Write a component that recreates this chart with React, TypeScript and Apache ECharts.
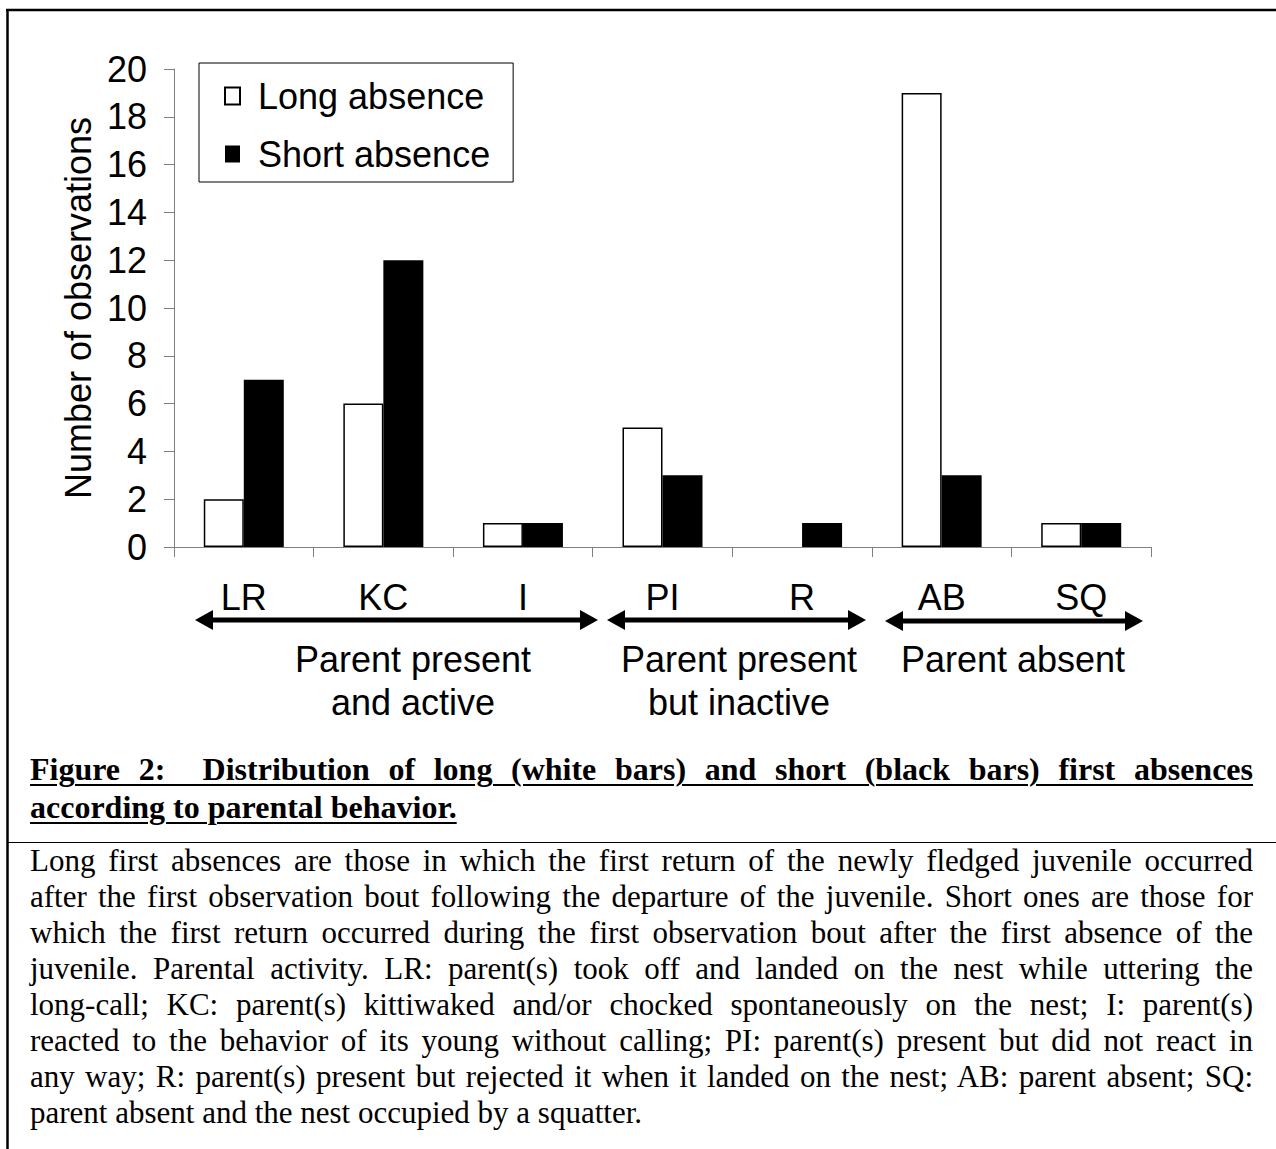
import React, { useEffect, useRef } from "react";
import * as echarts from "echarts";

const categories = ["LR", "KC", "I", "PI", "R", "AB", "SQ"];
const longAbsence = [2, 6, 1, 5, 0, 19, 1];
const shortAbsence = [7, 12, 1, 3, 1, 3, 1];
const seriesNames = ["Long absence", "Short absence"];
const yAxisTitle = "Number of observations";
const yMin = 0;
const yMax = 20;
const yInterval = 2;
const groupLabels = [
  "Parent present\nand active",
  "Parent present\nbut inactive",
  "Parent absent",
];
const captionLines = [
  "Figure 2:\u00a0 Distribution of long (white bars) and short (black bars) first absences",
  "according to parental behavior.",
];
const noteLines = [
  "Long first absences are those in which the first return of the newly fledged juvenile occurred",
  "after the first observation bout following the departure of the juvenile. Short ones are those for",
  "which the first return occurred during the first observation bout after the first absence of the",
  "juvenile. Parental activity. LR: parent(s) took off and landed on the nest while uttering the",
  "long-call; KC: parent(s) kittiwaked and/or chocked spontaneously on the nest; I: parent(s)",
  "reacted to the behavior of its young without calling; PI: parent(s) present but did not react in",
  "any way; R: parent(s) present but rejected it when it landed on the nest; AB: parent absent; SQ:",
  "parent absent and the nest occupied by a squatter.",
];

const W = 1276;
const H = 1149;
const SANS = "'Liberation Sans', Arial, sans-serif";
const SERIF = "'Liberation Serif', 'Times New Roman', serif";

// annotation geometry (pixels)
const arrowSpans = [
  [195, 598, 620],
  [607, 866, 620],
  [885, 1143, 621],
];
const groupLabelPos = [
  [413, 638],
  [739, 638],
  [1013, 638],
];

function arrow(x1: number, x2: number, y: number) {
  const head = 18;
  const half = 10;
  return [
    {
      type: "line",
      shape: { x1: x1 + head - 2, y1: y, x2: x2 - head + 2, y2: y },
      style: { stroke: "#000", lineWidth: 5 },
    },
    {
      type: "polygon",
      shape: { points: [[x1, y], [x1 + head, y - half], [x1 + head, y + half]] },
      style: { fill: "#000" },
    },
    {
      type: "polygon",
      shape: { points: [[x2, y], [x2 - head, y - half], [x2 - head, y + half]] },
      style: { fill: "#000" },
    },
  ];
}

export default function App() {
  const ref = useRef<HTMLDivElement>(null);

  useEffect(() => {
    if (!ref.current) return;
    const chart = echarts.init(ref.current, undefined, { renderer: "svg", width: W, height: H });

    const graphics: any[] = [
      // frame
      { type: "line", shape: { x1: 6, y1: 10, x2: W, y2: 10 }, style: { stroke: "#000", lineWidth: 2.5 } },
      { type: "line", shape: { x1: 7.5, y1: 9, x2: 7.5, y2: H }, style: { stroke: "#000", lineWidth: 2.5 } },
      { type: "line", shape: { x1: 7, y1: 842.5, x2: W, y2: 842.5 }, style: { stroke: "#000", lineWidth: 1 } },
    ];
    arrowSpans.forEach(([a, b, y]) => graphics.push(...arrow(a, b, y)));
    groupLabels.forEach((t, i) => {
      graphics.push({
        type: "text",
        x: groupLabelPos[i][0],
        y: groupLabelPos[i][1],
        style: {
          text: t,
          fontSize: 36,
          fontFamily: SANS,
          fill: "#000",
          align: "center",
          verticalAlign: "top",
          lineHeight: 43,
        },
      });
    });

    // zero-height bars are not drawn (no outline)
    const longData = longAbsence.map((v) =>
      v === 0 ? { value: v, itemStyle: { borderWidth: 0 } } : v
    );

    chart.setOption({
      animation: false,
      backgroundColor: "#fff",
      grid: { left: 174, top: 69, right: W - 1151, bottom: H - 547, outerBoundsMode: "none" },
      legend: {
        data: seriesNames.map((n) => ({ name: n, icon: "rect" })),
        orient: "vertical",
        left: 199,
        top: 63,
        padding: [15, 23, 10, 25],
        itemGap: 22,
        itemWidth: 15,
        itemHeight: 17,
        borderColor: "#000",
        borderWidth: 1,
        selectedMode: false,
        textStyle: {
          fontSize: 36,
          fontFamily: SANS,
          color: "#000",
          lineHeight: 36,
          padding: [0, 0, 0, 13],
        },
      },
      xAxis: {
        type: "category",
        data: categories,
        axisLine: { lineStyle: { color: "#808080", width: 1 } },
        axisTick: { show: true, length: 10, lineStyle: { color: "#808080" } },
        axisLabel: { fontSize: 36, fontFamily: SANS, color: "#000", margin: 32 },
        splitLine: { show: false },
      },
      yAxis: {
        type: "value",
        min: yMin,
        max: yMax,
        interval: yInterval,
        name: yAxisTitle,
        nameLocation: "middle",
        nameGap: 68,
        nameRotate: 90,
        nameTextStyle: { fontSize: 36, fontFamily: SANS, color: "#000" },
        axisLine: { show: true, lineStyle: { color: "#808080", width: 1 } },
        axisTick: { show: true, length: 10, lineStyle: { color: "#808080" } },
        axisLabel: { fontSize: 36, fontFamily: SANS, color: "#000", margin: 27 },
        splitLine: { show: false },
      },
      series: [
        {
          name: seriesNames[0],
          type: "bar",
          data: longData,
          barWidth: 40,
          barGap: "0%",
          itemStyle: { color: "#fff", borderColor: "#000", borderWidth: 1.5 },
        },
        {
          name: seriesNames[1],
          type: "bar",
          data: shortAbsence,
          barWidth: 40,
          barGap: "0%",
          itemStyle: { color: "#000", borderColor: "#000", borderWidth: 0 },
        },
      ],
      graphic: { elements: graphics },
    });

    return () => chart.dispose();
  }, []);

  const lineStyle = (last: boolean): React.CSSProperties => ({
    textAlign: last ? "left" : "justify",
    textAlignLast: last ? "left" : "justify",
  });

  return (
    <div style={{ position: "absolute", left: 0, top: 0, width: W, height: H, background: "#fff", overflow: "hidden" }}>
      <div ref={ref} style={{ position: "absolute", left: 0, top: 0, width: W, height: H }} />
      <div
        style={{
          position: "absolute",
          left: 30,
          top: 750,
          width: 1223,
          fontFamily: SERIF,
          fontWeight: "bold",
          fontSize: 32,
          lineHeight: "38px",
          color: "#000",
          textDecoration: "underline",
          textDecorationThickness: "2px",
          textUnderlineOffset: "4px",
        }}
      >
        {captionLines.map((t, i) => (
          <div key={i} style={lineStyle(i === captionLines.length - 1)}>{t}</div>
        ))}
      </div>
      <div
        style={{
          position: "absolute",
          left: 30,
          top: 843,
          width: 1223,
          fontFamily: SERIF,
          fontSize: 31,
          lineHeight: "36px",
          color: "#000",
        }}
      >
        {noteLines.map((t, i) => (
          <div key={i} style={lineStyle(i === noteLines.length - 1)}>{t}</div>
        ))}
      </div>
    </div>
  );
}
